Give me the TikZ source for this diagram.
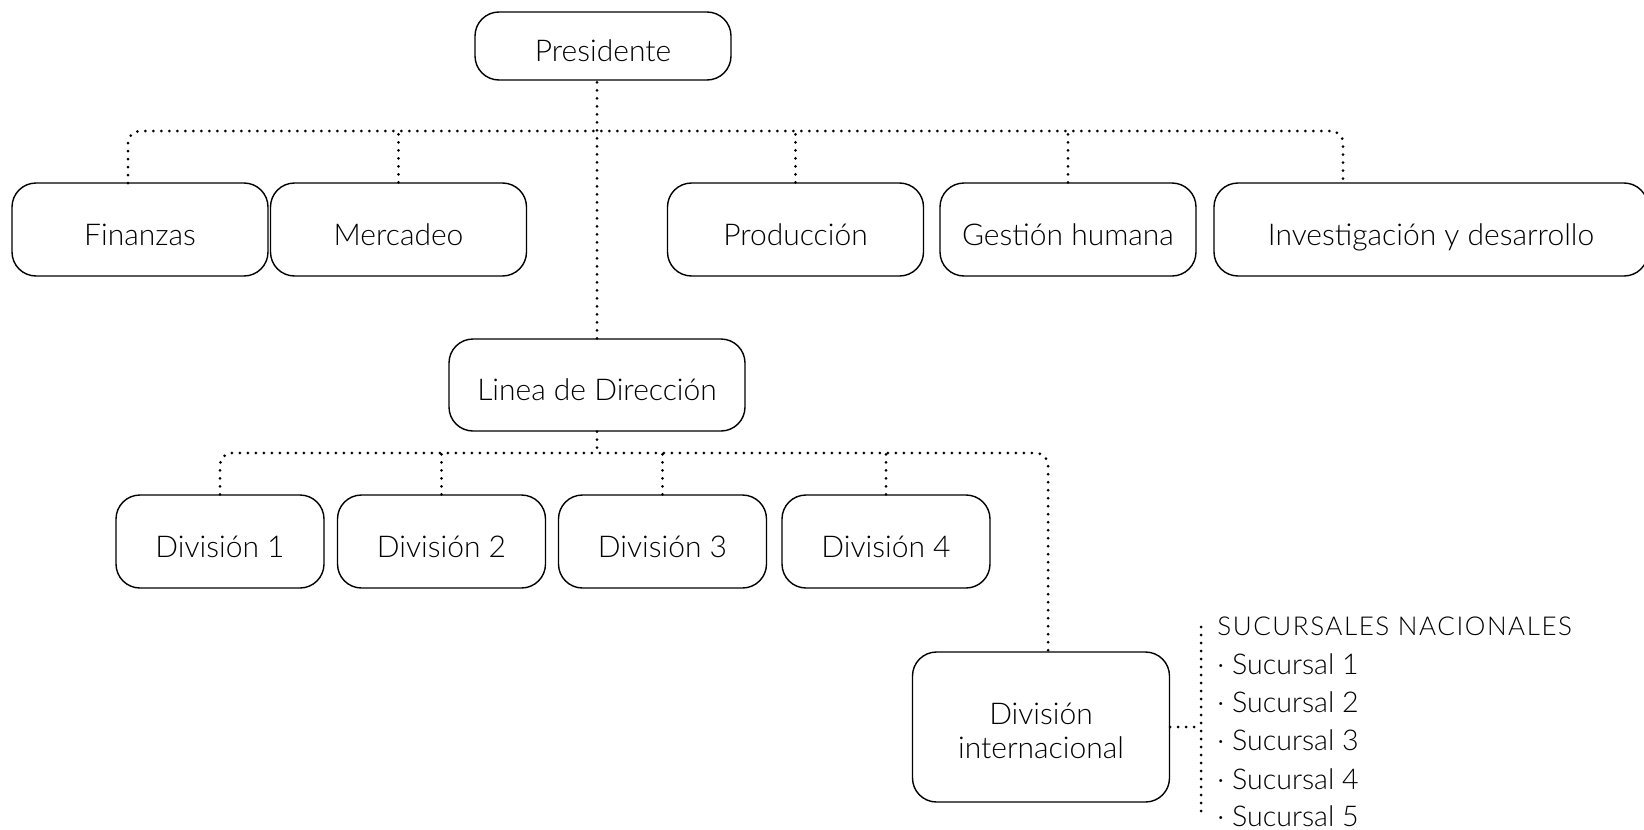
\documentclass[tikz,border=0pt]{standalone}
\usepackage{fontspec}
\setmainfont{Lato}[UprightFont=* Light]
\usepackage{tikz}
\usetikzlibrary{positioning, calc}

\begin{document}
\begin{tikzpicture}[
    x=0.5pt, y=-0.5pt,
    font=\fontsize{15}{17}\selectfont,
    box/.style={rectangle, draw, rounded corners=12pt, line width=0.7pt, align=center, minimum width=128pt, minimum height=46.5pt},
    onebox/.style={box, text height=15.5pt, text depth=0pt},
    divbox/.style={onebox, minimum width=104pt},
    link/.style={line width=1.5pt, dash pattern=on 0pt off 4pt, line cap=round, rounded corners=6pt},
    item/.style={anchor=west, inner sep=0pt}
]
\useasboundingbox (0,0) rectangle (1644,830);

% Top of the chart
\node[onebox, minimum height=34pt] (pres) at (603, 46) {Presidente};

% Staff areas
\node[onebox] (fin) at (140, 229.5) {Finanzas};
\node[onebox] (mer) at (398.5, 229.5) {Mercadeo};
\node[onebox] (pro) at (795.5, 229.5) {Producción};
\node[onebox] (ges) at (1068, 229.5) {Gestión humana};
\node[onebox, minimum width=217pt] (inv) at (1431, 229.5) {Investigación y desarrollo};

% Line management
\node[onebox, minimum width=148pt, minimum height=46pt] (ldd) at (597, 385) {Linea de Dirección};

% Divisions
\foreach \i/\x in {1/220, 2/441.5, 3/662.5, 4/886} {
    \node[divbox] (div\i) at (\x, 541.5) {División \i};
}
\node[box, minimum width=128.5pt, minimum height=75pt] (dint) at (1041, 727) {\rule{0pt}{15pt}División\\internacional};

% Branch list
\node[item, font=\fontsize{13}{16}\selectfont\addfontfeatures{LetterSpace=6}] (suc0) at (1217, 626) {SUCURSALES NACIONALES};
\foreach \i/\y in {1/664, 2/702, 3/740, 4/779, 5/816} {
    \node[item, font=\fontsize{14.3}{17}\selectfont] (suc\i) at (1217, \y) {· Sucursal \i};
}

% Connectors, first level
\coordinate (bus1) at (603, 131);
\coordinate (finin) at (128, 183);
\coordinate (invin) at (1343, 183);
\draw[link] (finin) |- (bus1) -| (invin);
\draw[link] (ldd.north) -- (ldd.north |- pres.south);
\foreach \n in {mer, pro, ges} {
    \draw[link] (\n.north) -- (\n.north |- bus1);
}

% Connectors, second level
\coordinate (bus2) at (598, 453);
\coordinate (dintin) at (1048, 652);
\draw[link] (div1.north) |- (bus2) -| (dintin);
\draw[link] (ldd.south) -- (ldd.south |- bus2);
\foreach \n in {div2, div3, div4} {
    \draw[link] (\n.north) -- (\n.north |- bus2);
}

% Branch list bracket
\coordinate (listtop) at (1201, 627);
\coordinate (listbot) at (1201, 811);
\draw[link] (listtop) -- (listbot);
\draw[link] (dint.east) -- (dint.east -| listtop);

\end{tikzpicture}
\end{document}
